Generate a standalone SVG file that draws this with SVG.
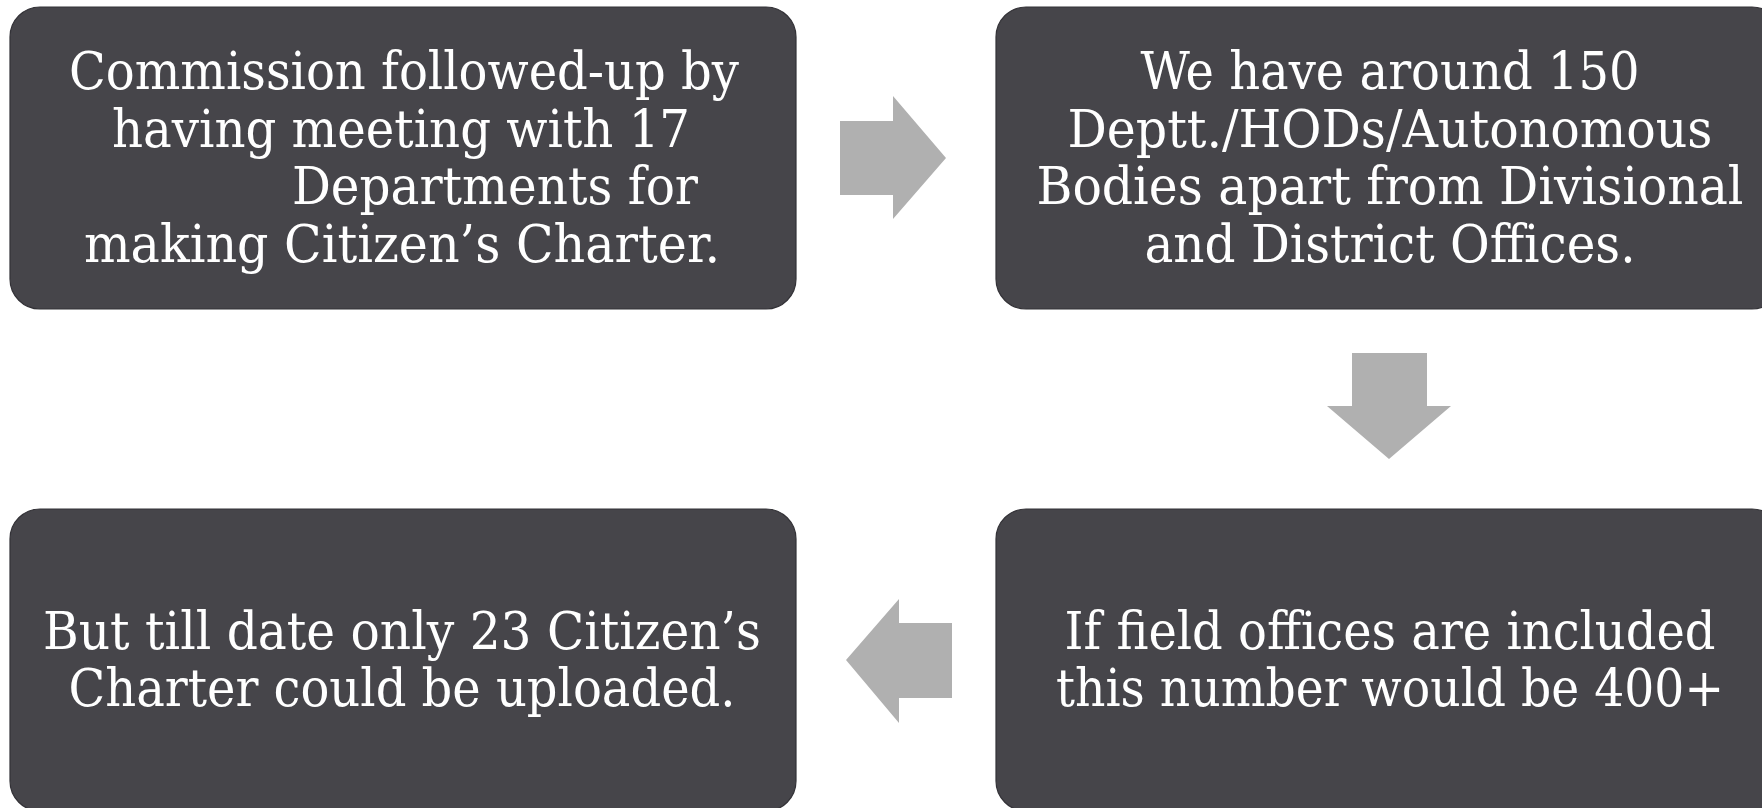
<svg xmlns="http://www.w3.org/2000/svg" width="1762" height="808" viewBox="0 0 1762 808">
  <style>
    .box { fill: #46454a; stroke: #333237; stroke-width: 1.2; }
    .lbl { font-family: "DejaVu Serif Condensed", "DejaVu Serif", "Liberation Serif", serif; font-stretch: condensed; font-size: 52px; fill: #ffffff; }
    .mid { text-anchor: middle; }
    .arrow { fill: #b0b0b0; }
  </style>
  <rect width="1762" height="808" fill="#ffffff"/>
  <g id="connectors">
    <polygon class="arrow" points="840,121 893,121 893,96 946,158 893,219 893,195 840,195"/>
    <polygon class="arrow" points="1352,353 1427,353 1427,406 1451,406 1389,459 1327,406 1352,406"/>
    <polygon class="arrow" points="952,623 899,623 899,599 846,660 899,723 899,698 952,698"/>
  </g>
  <g id="node1">
    <rect class="box" x="10" y="7" width="786" height="302" rx="30" ry="30"/>
    <text class="lbl mid" x="404" y="89" textLength="670" lengthAdjust="spacingAndGlyphs">Commission followed-up by</text>
    <text class="lbl mid" x="401" y="147" textLength="578" lengthAdjust="spacingAndGlyphs">having meeting with 17</text>
    <text class="lbl" x="292" y="204" textLength="406" lengthAdjust="spacingAndGlyphs">Departments for</text>
    <text class="lbl mid" x="402" y="262" textLength="636" lengthAdjust="spacingAndGlyphs">making Citizen’s Charter.</text>
  </g>
  <g id="node2">
    <rect class="box" x="996" y="7" width="786" height="302" rx="30" ry="30"/>
    <text class="lbl mid" x="1390" y="89" textLength="499" lengthAdjust="spacingAndGlyphs">We have around 150</text>
    <text class="lbl mid" x="1390" y="147" textLength="645" lengthAdjust="spacingAndGlyphs">Deptt./HODs/Autonomous</text>
    <text class="lbl mid" x="1390" y="204" textLength="707" lengthAdjust="spacingAndGlyphs">Bodies apart from Divisional</text>
    <text class="lbl mid" x="1390" y="262" textLength="491" lengthAdjust="spacingAndGlyphs">and District Offices.</text>
  </g>
  <g id="node3">
    <rect class="box" x="996" y="509" width="786" height="302" rx="30" ry="30"/>
    <text class="lbl mid" x="1390" y="649" textLength="651" lengthAdjust="spacingAndGlyphs">If field offices are included</text>
    <text class="lbl mid" x="1390" y="706" textLength="668" lengthAdjust="spacingAndGlyphs">this number would be 400+</text>
  </g>
  <g id="node4">
    <rect class="box" x="10" y="509" width="786" height="302" rx="30" ry="30"/>
    <text class="lbl mid" x="402" y="649" textLength="718" lengthAdjust="spacingAndGlyphs">But till date only 23 Citizen’s</text>
    <text class="lbl mid" x="402" y="706" textLength="667" lengthAdjust="spacingAndGlyphs">Charter could be uploaded.</text>
  </g>
</svg>
